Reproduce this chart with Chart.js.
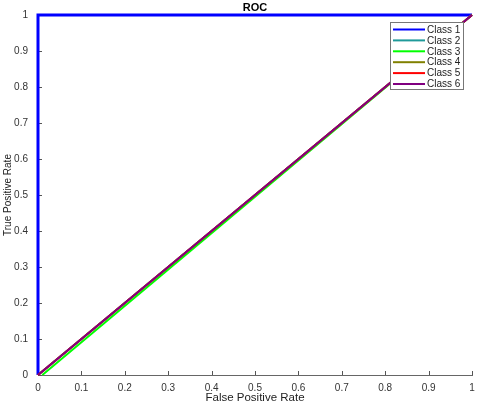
<!DOCTYPE html>
<html>
<head>
<meta charset="utf-8">
<script src="https://cdn.jsdelivr.net/npm/chart.js@4"></script>
<style>
  html, body { margin: 0; padding: 0; background: #fff; }
  #wrap { width: 480px; height: 405px; }
</style>
</head>
<body>
<div id="wrap"><canvas id="roc" width="480" height="405"></canvas></div>
<script>
// ROC curves
const classNames = ["Class 1", "Class 2", "Class 3", "Class 4", "Class 5", "Class 6"];
const classColors = ["#0000ff", "#1f9a9a", "#00ff00", "#808000", "#ff0000", "#800080"];
const lineWidths = [3, 2, 2, 2, 2, 2];
const fpr = [
  [0, 0, 1],
  [0, 1],
  [0.01, 1],
  [0, 1],
  [0, 1],
  [0, 1]
];
const tpr = [
  [0, 1, 1],
  [0, 1],
  [0, 1],
  [0, 1],
  [0, 1],
  [0, 1]
];
const tickValues = [0, 0.1, 0.2, 0.3, 0.4, 0.5, 0.6, 0.7, 0.8, 0.9, 1];

const FONT = "Liberation Sans, Arial, sans-serif";

let datasets = [];
for (let i = 0; i < classNames.length; i++) {
  let pts = [];
  for (let j = 0; j < fpr[i].length; j++) {
    pts.push({x: fpr[i][j], y: tpr[i][j]});
  }
  datasets.push({
    label: classNames[i],
    data: pts,
    borderColor: classColors[i],
    backgroundColor: classColors[i],
    borderWidth: lineWidths[i],
    showLine: true,
    pointRadius: 0,
    tension: 0,
    clip: false,
    // later classes drawn on top
    order: classNames.length - i
  });
}

// title, inward ticks and the boxed legend inside the plot
const decor = {
  id: "decor",
  beforeDatasetsDraw(chart) {
    const ctx = chart.ctx;
    const xs = chart.scales.x, ys = chart.scales.y;
    const a = chart.chartArea;
    ctx.save();
    ctx.strokeStyle = "#555";
    ctx.lineWidth = 1;
    ctx.beginPath();
    tickValues.forEach(v => {
      let px = Math.round(xs.getPixelForValue(v)) + 0.5;
      ctx.moveTo(px, a.bottom); ctx.lineTo(px, a.bottom - 4);
      let py = Math.round(ys.getPixelForValue(v)) + 0.5;
      ctx.moveTo(a.left, py); ctx.lineTo(a.left + 4, py);
    });
    ctx.stroke();
    ctx.restore();
  },
  afterDraw(chart) {
    const ctx = chart.ctx;
    ctx.save();
    ctx.fillStyle = "#000";
    ctx.font = "bold 11px " + FONT;
    ctx.textAlign = "center";
    ctx.textBaseline = "middle";
    ctx.fillText("ROC", (chart.chartArea.left + chart.chartArea.right) / 2, 8);

    // legend box
    const bx = 390, by = 22, bw = 73, bh = 67;
    ctx.fillStyle = "#fff";
    ctx.fillRect(bx, by, bw, bh);
    ctx.strokeStyle = "#777";
    ctx.lineWidth = 1;
    ctx.strokeRect(bx + 0.5, by + 0.5, bw, bh);
    ctx.font = "10px " + FONT;
    ctx.textAlign = "left";
    for (let i = 0; i < classNames.length; i++) {
      let yy = by + 7.5 + i * 10.9;
      ctx.strokeStyle = classColors[i];
      ctx.lineWidth = 2;
      ctx.beginPath();
      ctx.moveTo(bx + 3, yy); ctx.lineTo(bx + 35, yy);
      ctx.stroke();
      ctx.fillStyle = "#222";
      ctx.fillText(classNames[i], bx + 37, yy + 0.5);
    }
    ctx.restore();
  }
};

new Chart(document.getElementById("roc"), {
  type: "scatter",
  data: { datasets: datasets },
  options: {
    responsive: false,
    animation: false,
    devicePixelRatio: 1,
    layout: { padding: { top: 15, right: 8, left: 2, bottom: 0 } },
    plugins: {
      legend: { display: false },
      title: { display: false },
      tooltip: { enabled: false }
    },
    scales: {
      x: {
        type: "linear",
        min: 0, max: 1,
        afterFit(s) { s.height = 30; s.paddingRight = 0; s.paddingLeft = 0; },
        afterBuildTicks(s) { s.ticks = tickValues.map(v => ({value: v})); },
        grid: { display: false, drawTicks: false },
        border: { display: true, color: "#666", width: 1 },
        ticks: {
          padding: 7,
          color: "#333",
          font: { family: FONT, size: 10 },
          maxRotation: 0,
          callback: v => String(v)
        },
        title: {
          display: true,
          text: "False Positive Rate",
          color: "#222",
          font: { family: FONT, size: 11.5 },
          padding: { top: 0, bottom: 0 }
        }
      },
      y: {
        type: "linear",
        min: 0, max: 1,
        afterFit(s) { s.width = 36; s.paddingTop = 0; s.paddingBottom = 0; },
        afterBuildTicks(s) { s.ticks = tickValues.map(v => ({value: v})); },
        grid: { display: false, drawTicks: false },
        border: { display: true, color: "#666", width: 1 },
        ticks: {
          padding: 10,
          color: "#333",
          font: { family: FONT, size: 10 },
          callback: v => String(v)
        },
        title: {
          display: true,
          text: "True Positive Rate",
          color: "#222",
          font: { family: FONT, size: 10 },
          padding: { top: 0, bottom: 0 }
        }
      }
    }
  },
  plugins: [decor]
});
</script>
</body>
</html>
